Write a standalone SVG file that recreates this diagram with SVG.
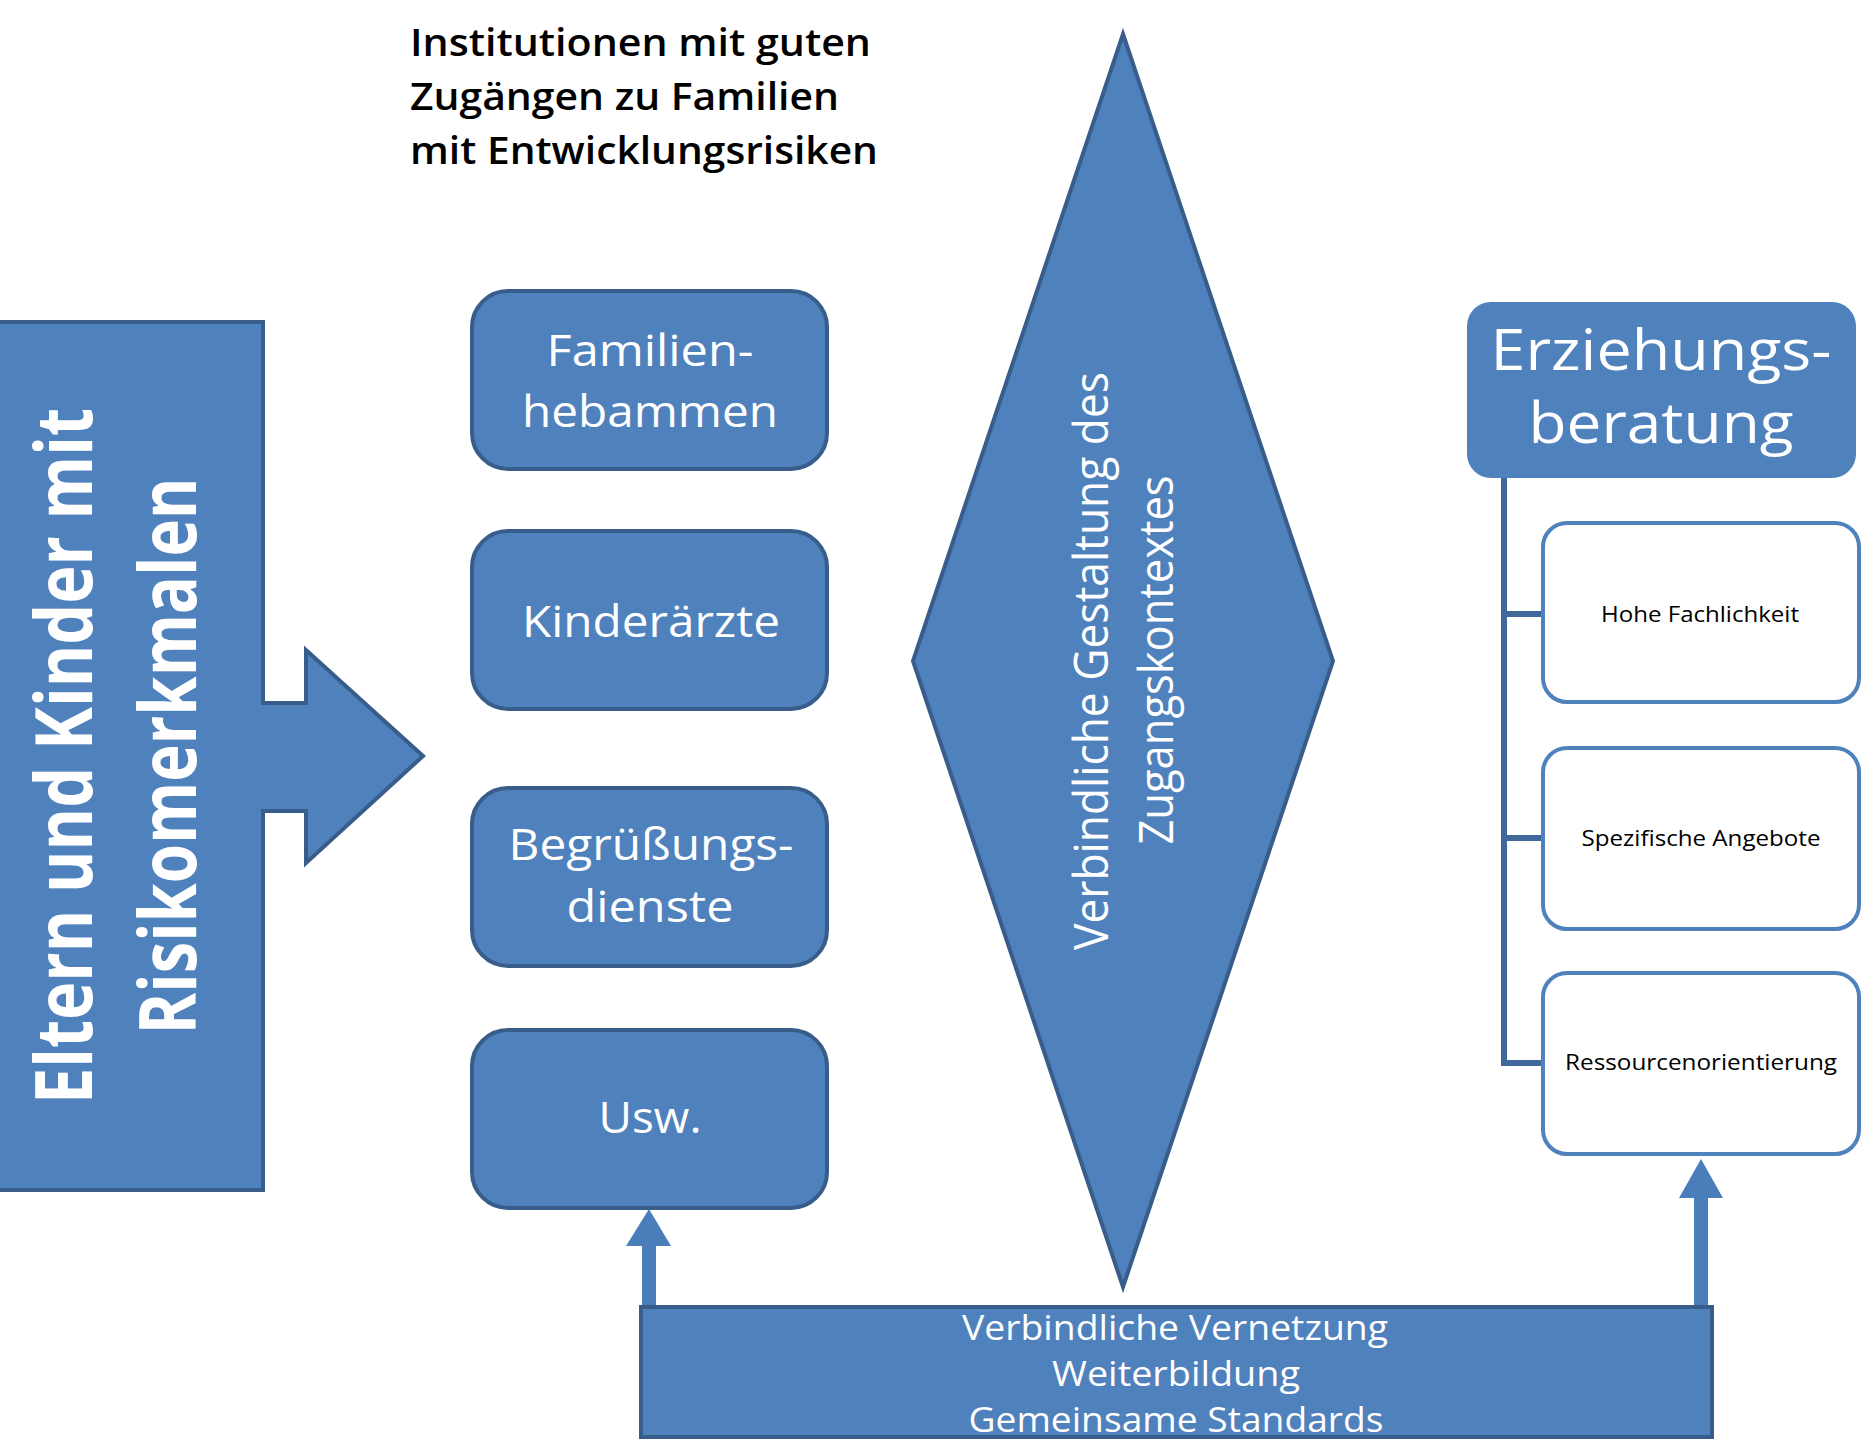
<svg xmlns="http://www.w3.org/2000/svg" width="1863" height="1440" viewBox="0 0 1863 1440">
<style>
.shape{fill:#4f81bd;stroke:#385d8a;stroke-width:4;stroke-linejoin:miter}
.wt{fill:#ffffff;font-family:"Open Sans","Noto Sans",sans-serif}
.bt{fill:#000000;font-family:"Open Sans","Noto Sans",sans-serif}
.child{fill:#ffffff;stroke:#4f81bd;stroke-width:4}
.tree{fill:none;stroke:#41689a;stroke-width:6}
.up{fill:#4a7ebb}
</style>
<rect width="1863" height="1440" fill="#ffffff"/>

<g id="title">
<text class="bt" font-size="38" font-weight="600">
<tspan x="410" y="56" textLength="461" lengthAdjust="spacingAndGlyphs">Institutionen mit guten</tspan>
<tspan x="410" y="110" textLength="429" lengthAdjust="spacingAndGlyphs">Zugängen zu Familien</tspan>
<tspan x="410" y="164" textLength="468" lengthAdjust="spacingAndGlyphs">mit Entwicklungsrisiken</tspan>
</text>
</g>

<g id="eltern">
<polygon class="shape" points="-5,322 263,322 263,703 306,703 306,650 423,756 306,863 306,811 263,811 263,1190 -5,1190"/>
<text class="wt" font-size="78" font-weight="700" text-anchor="middle" transform="translate(92,756) rotate(-90)" textLength="696" lengthAdjust="spacingAndGlyphs">Eltern und Kinder mit</text>
<text class="wt" font-size="78" font-weight="700" text-anchor="middle" transform="translate(196,756) rotate(-90)" textLength="557" lengthAdjust="spacingAndGlyphs">Risikomerkmalen</text>
</g>

<g id="familienhebammen">
<rect class="shape" x="472" y="291" width="355" height="178" rx="36" ry="36"/>
<text class="wt" font-size="43" text-anchor="middle"><tspan x="650" y="366" textLength="207" lengthAdjust="spacingAndGlyphs">Familien-</tspan><tspan x="650" y="427" textLength="256" lengthAdjust="spacingAndGlyphs">hebammen</tspan></text>
</g>

<g id="kinderaerzte">
<rect class="shape" x="472" y="531" width="355" height="178" rx="36" ry="36"/>
<text class="wt" font-size="43" text-anchor="middle" x="651" y="637" textLength="258" lengthAdjust="spacingAndGlyphs">Kinderärzte</text>
</g>

<g id="begruessungsdienste">
<rect class="shape" x="472" y="788" width="355" height="178" rx="36" ry="36"/>
<text class="wt" font-size="43" text-anchor="middle"><tspan x="651" y="860" textLength="285" lengthAdjust="spacingAndGlyphs">Begrüßungs-</tspan><tspan x="650" y="922" textLength="167" lengthAdjust="spacingAndGlyphs">dienste</tspan></text>
</g>

<g id="usw">
<rect class="shape" x="472" y="1030" width="355" height="178" rx="36" ry="36"/>
<text class="wt" font-size="43" text-anchor="middle" x="650" y="1133" textLength="103" lengthAdjust="spacingAndGlyphs">Usw.</text>
</g>

<g id="gestaltung">
<polygon class="shape" points="1123,34 1333,661 1123,1287 913,661"/>
<text class="wt" font-size="48" text-anchor="middle" transform="translate(1108,661) rotate(-90)" textLength="578" lengthAdjust="spacingAndGlyphs">Verbindliche Gestaltung des</text>
<text class="wt" font-size="48" text-anchor="middle" transform="translate(1173,660) rotate(-90)" textLength="369" lengthAdjust="spacingAndGlyphs">Zugangskontextes</text>
</g>

<g id="erziehungsberatung">
<rect x="1467" y="302" width="389" height="176" rx="24" ry="24" fill="#4f81bd"/>
<text class="wt" font-size="56" text-anchor="middle"><tspan x="1661" y="370" textLength="341" lengthAdjust="spacingAndGlyphs">Erziehungs-</tspan><tspan x="1661" y="443" textLength="265" lengthAdjust="spacingAndGlyphs">beratung</tspan></text>
</g>

<g id="connectors">
<path class="tree" d="M1504,478 V1063 H1545 M1504,614 H1545 M1504,838 H1545"/>
<path class="up" d="M642,1310 V1246 H626 L649,1209 L671,1246 H656 V1310 Z"/>
<path class="up" d="M1694,1310 V1198 H1679 L1701,1159 L1723,1198 H1708 V1310 Z"/>
</g>

<g id="fachlichkeit">
<rect class="child" x="1543" y="523" width="316" height="179" rx="24" ry="24"/>
<text class="bt" font-size="22" text-anchor="middle" x="1700" y="622" textLength="198" lengthAdjust="spacingAndGlyphs">Hohe Fachlichkeit</text>
</g>

<g id="angebote">
<rect class="child" x="1543" y="748" width="316" height="181" rx="24" ry="24"/>
<text class="bt" font-size="22" text-anchor="middle" x="1701" y="846" textLength="239" lengthAdjust="spacingAndGlyphs">Spezifische Angebote</text>
</g>

<g id="ressourcen">
<rect class="child" x="1543" y="973" width="316" height="181" rx="24" ry="24"/>
<text class="bt" font-size="22" text-anchor="middle" x="1701" y="1070" textLength="272" lengthAdjust="spacingAndGlyphs">Ressourcenorientierung</text>
</g>

<g id="vernetzung">
<rect class="shape" x="641" y="1307" width="1071" height="130"/>
<text class="wt" font-size="35" text-anchor="middle"><tspan x="1175" y="1340" textLength="426" lengthAdjust="spacingAndGlyphs">Verbindliche Vernetzung</tspan><tspan x="1176" y="1386" textLength="248" lengthAdjust="spacingAndGlyphs">Weiterbildung</tspan><tspan x="1176" y="1432" textLength="415" lengthAdjust="spacingAndGlyphs">Gemeinsame Standards</tspan></text>
</g>
</svg>
